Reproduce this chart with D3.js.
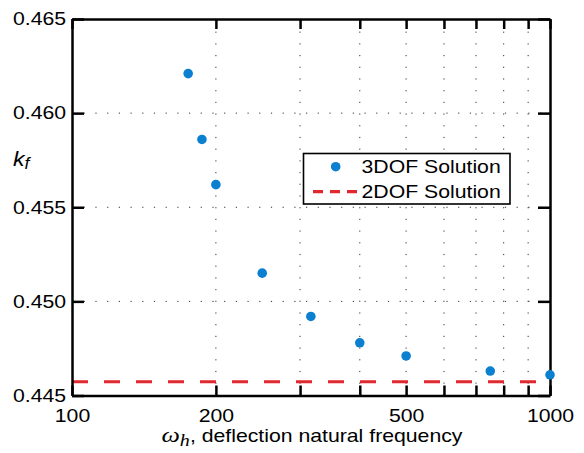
<!DOCTYPE html>
<html>
<head>
<meta charset="utf-8">
<script src="https://cdn.jsdelivr.net/npm/d3@7"></script>
<style>
  html, body { margin: 0; padding: 0; background: #fff; }
  svg { display: block; }
</style>
</head>
<body>
<div id="chart"></div>
<script>
// ---- data ----
const freq3DOF = [175, 187, 200, 250, 316, 400, 500, 750, 1000];
const kf3DOF   = [0.4621, 0.4586, 0.4562, 0.4515, 0.4492, 0.4478, 0.4471, 0.4463, 0.4461];
const kf2DOF   = 0.44573;
const xTickValues = [100, 200, 300, 400, 500, 600, 700, 800, 900, 1000];
const xTickLabels = [100, 200, 500, 1000];
const yTickValues = [0.445, 0.450, 0.455, 0.460, 0.465];
const legendLabels = ["3DOF Solution", "2DOF Solution"];

// ---- layout ----
const W = 584, H = 453;
const L = 72, R = 550, T = 19, B = 395.5;
const SX = 1.18;               // horizontal stretch of the original text
const FONT = "'Liberation Sans', Arial, Helvetica, sans-serif";
const SERIF = "'Liberation Serif', 'DejaVu Serif', serif";
const BLUE = "#0b80d0", RED = "#e0282e";

const svg = d3.select("#chart").append("svg").attr("width", W).attr("height", H);

const x = d3.scaleLog().domain([100, 1000]).range([L, R]);
const y = d3.scaleLinear().domain([0.445, 0.465]).range([B, T]);

// ---- grid ----
const grid = svg.append("g").attr("stroke", "#333").attr("stroke-width", 1)
  .attr("stroke-dasharray", "1.2,10.5");
grid.selectAll("line.gx").data(xTickValues.slice(1, -1)).join("line")
  .attr("x1", d => x(d)).attr("x2", d => x(d)).attr("y1", B).attr("y2", T);
grid.selectAll("line.gy").data(yTickValues.slice(1, -1)).join("line")
  .attr("x1", L).attr("x2", R).attr("y1", d => y(d)).attr("y2", d => y(d));

// ---- 2DOF dashed line ----
svg.append("line")
  .attr("x1", x(100)).attr("x2", x(1000))
  .attr("y1", y(kf2DOF)).attr("y2", y(kf2DOF))
  .attr("stroke", RED).attr("stroke-width", 3.2)
  .attr("stroke-dasharray", "16,16");

// ---- axes ----
const fmtX = d => xTickLabels.includes(d) ? String(d) : "";
function styleAxis(g) {
  g.selectAll(".domain").attr("stroke", "#000").attr("stroke-width", 2.5);
  g.selectAll(".tick line").attr("stroke", "#000").attr("stroke-width", 2.5);
  g.selectAll("text").attr("font-family", FONT).attr("font-size", 18).attr("fill", "#000");
}
const axB = svg.append("g").attr("transform", `translate(0,${B})`)
  .call(d3.axisBottom(x).tickValues(xTickValues).tickFormat(fmtX)
        .tickSizeInner(-10).tickSizeOuter(0).tickPadding(13.5));
styleAxis(axB);
axB.selectAll("text").attr("transform", `scale(${SX},1)`);

const axT = svg.append("g").attr("transform", `translate(0,${T})`)
  .call(d3.axisTop(x).tickValues(xTickValues).tickFormat("")
        .tickSizeInner(-10).tickSizeOuter(0));
styleAxis(axT);

const axL = svg.append("g").attr("transform", `translate(${L},0)`)
  .call(d3.axisLeft(y).tickValues(yTickValues).tickFormat(d3.format(".3f"))
        .tickSizeInner(-12).tickSizeOuter(0).tickPadding(5));
styleAxis(axL);
axL.selectAll("text").attr("transform", `scale(${SX},1)`);

const axR = svg.append("g").attr("transform", `translate(${R},0)`)
  .call(d3.axisRight(y).tickValues(yTickValues).tickFormat("")
        .tickSizeInner(-12).tickSizeOuter(0));
styleAxis(axR);

// ---- 3DOF points ----
svg.append("g").selectAll("circle")
  .data(freq3DOF.map((f, i) => [f, kf3DOF[i]]))
  .join("circle")
  .attr("cx", d => x(d[0])).attr("cy", d => y(d[1])).attr("r", 4.8)
  .attr("fill", BLUE);

// ---- axis labels ----
const xl = svg.append("text")
  .attr("transform", `translate(${(L + R) / 2 + 1},442) scale(${SX},1)`)
  .attr("text-anchor", "middle").attr("font-family", FONT).attr("font-size", 18);
xl.append("tspan").attr("font-family", SERIF)
  .attr("font-style", "italic").attr("font-size", 22).text("ω");
xl.append("tspan").attr("font-family", SERIF)
  .attr("font-style", "italic").attr("font-size", 17).attr("dy", 4).text("h");
xl.append("tspan").attr("dy", -4).text(", deflection natural frequency");

const yl = svg.append("text")
  .attr("transform", `translate(13,166) scale(1.1,1)`)
  .attr("font-family", FONT).attr("font-size", 21).attr("font-style", "italic");
yl.append("tspan").text("k");
yl.append("tspan").attr("font-size", 16).attr("dy", 3).text("f");

// ---- legend ----
const lg = svg.append("g").attr("transform", "translate(303.5,153.5)");
lg.append("rect").attr("width", 206.5).attr("height", 50.5)
  .attr("fill", "#fff").attr("stroke", "#000").attr("stroke-width", 1.6);
lg.append("circle").attr("cx", 32.2).attr("cy", 13.2).attr("r", 4.8).attr("fill", BLUE);
lg.append("line").attr("x1", 9.5).attr("x2", 53.5).attr("y1", 38.2).attr("y2", 38.2)
  .attr("stroke", RED).attr("stroke-width", 3.2).attr("stroke-dasharray", "10,7");
lg.selectAll("text.lt").data(legendLabels).join("text")
  .attr("transform", (d, i) => `translate(58,${i === 0 ? 19.8 : 44.5}) scale(${SX},1)`)
  .attr("font-family", FONT).attr("font-size", 18).attr("fill", "#000")
  .text(d => d);
</script>
</body>
</html>
